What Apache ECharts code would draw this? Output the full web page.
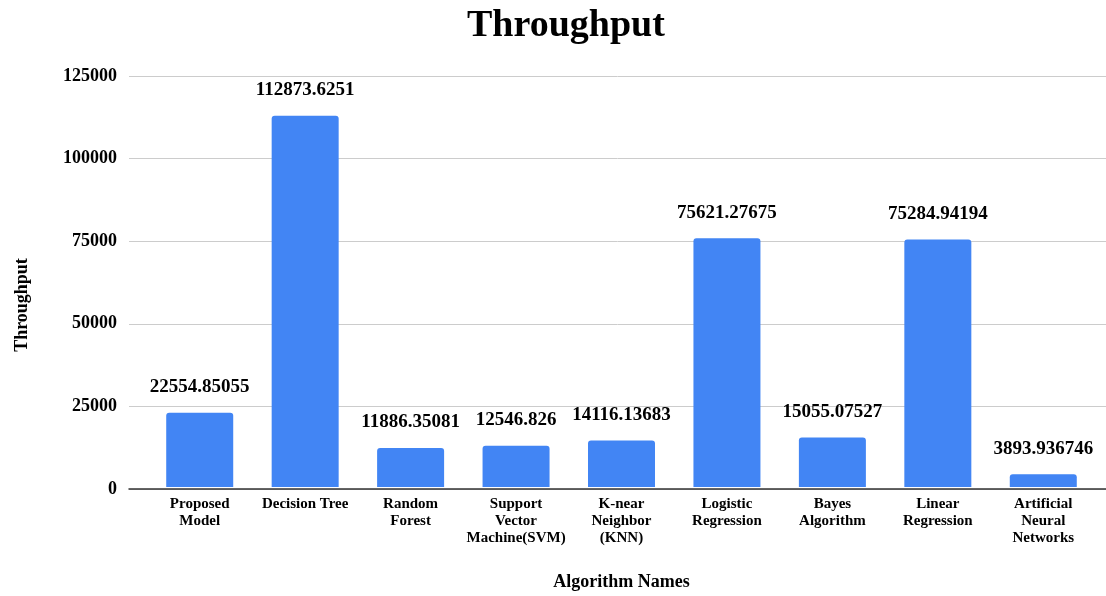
<!DOCTYPE html>
<html>
<head>
<meta charset="utf-8">
<script src="https://cdn.jsdelivr.net/npm/echarts@6/dist/echarts.min.js"></script>
<style>html,body{margin:0;padding:0;background:#fff}#c{width:1106px;height:596px}</style>
</head>
<body>
<div id="c"></div>
<script>
const categories = ['Proposed Model','Decision Tree','Random Forest','Support Vector Machine(SVM)','K-near Neighbor (KNN)','Logistic Regression','Bayes Algorithm','Linear Regression','Artificial Neural Networks'];
const tickLabels = ['Proposed\nModel','Decision Tree','Random\nForest','Support\nVector\nMachine(SVM)','K-near\nNeighbor\n(KNN)','Logistic\nRegression','Bayes\nAlgorithm','Linear\nRegression','Artificial\nNeural\nNetworks'];
const throughput = [22554.85055,112873.6251,11886.35081,12546.826,14116.13683,75621.27675,15055.07527,75284.94194,3893.936746];
const yTicks = [0,25000,50000,75000,100000,125000];

const FONT = '"Liberation Serif", "DejaVu Serif", serif';
const chart = echarts.init(document.getElementById('c'));
chart.setOption({
  animation: false,
  title: {
    text: 'Throughput', left: 462, top: 2,
    textStyle: {fontFamily: FONT, fontWeight: 'bold', fontSize: 38, color: '#000'}
  },
  graphic: [{
    type: 'text', x: 22, y: 305, rotation: Math.PI / 2,
    style: {text: 'Throughput', fontFamily: FONT, fontWeight: 'bold', fontSize: 18, fill: '#000', align: 'center', verticalAlign: 'middle'}
  }],
  grid: [
    {left: 129, right: 0, top: 76, bottom: 107},
    {left: 147, right: 10, top: 76, bottom: 107}
  ],
  xAxis: [
    {gridIndex: 0, type: 'value', min: 0, max: 1, axisLabel: {show: false}, axisTick: {show: false}, splitLine: {show: false},
     axisLine: {show: true, lineStyle: {color: '#333', width: 1.5}}},
    {gridIndex: 1, type: 'category', data: categories,
     axisLine: {show: false}, axisTick: {show: false},
     axisLabel: {interval: 0, margin: 9, fontFamily: FONT, fontWeight: 'bold', fontSize: 15, lineHeight: 17, color: '#000',
       formatter: (v, i) => tickLabels[i]},
     name: 'Algorithm Names', nameLocation: 'middle', nameGap: 86,
     nameTextStyle: {fontFamily: FONT, fontWeight: 'bold', fontSize: 18, color: '#000'}}
  ],
  yAxis: [
    {gridIndex: 0, type: 'value', min: yTicks[0], max: yTicks[yTicks.length - 1], interval: yTicks[1] - yTicks[0],
     axisLine: {show: false}, axisTick: {show: false},
     axisLabel: {margin: 12, fontFamily: FONT, fontWeight: 'bold', fontSize: 18, color: '#000', formatter: v => String(v)},
     splitLine: {lineStyle: {color: '#cccccc', width: 1}}},
    {gridIndex: 1, type: 'value', min: yTicks[0], max: yTicks[yTicks.length - 1], show: false, splitLine: {show: false}}
  ],
  series: [{
    type: 'bar', xAxisIndex: 1, yAxisIndex: 1, data: throughput, barWidth: 67,
    itemStyle: {color: '#4285F4', borderRadius: [3, 3, 0, 0]},
    label: {show: true, position: 'top', distance: 16, formatter: '{c}',
      fontFamily: FONT, fontWeight: 'bold', fontSize: 19, color: '#000'}
  }]
});
</script>
</body>
</html>
